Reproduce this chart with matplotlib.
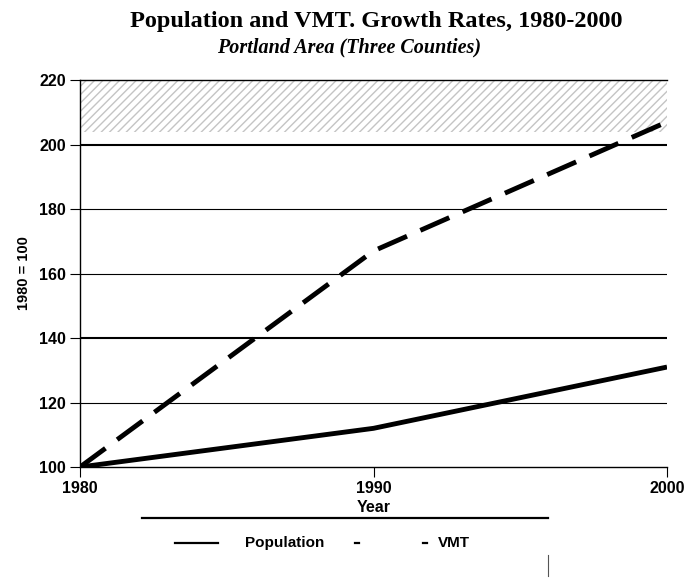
import matplotlib.pyplot as plt
from matplotlib.lines import Line2D

# -------------------------------------------------
# Data (index, 1980 = 100)
# -------------------------------------------------
years = [1980, 1990, 2000]
population = [100, 112, 131]
vmt = [100, 167, 207]

y_ticks = [100, 120, 140, 160, 180, 200, 220]
x_ticks = [1980, 1990, 2000]
series_names = ["Population", "VMT"]

sans = "Liberation Sans"
serif = "Liberation Serif"

fig = plt.figure(figsize=(6.88, 5.84), dpi=100)
ax = fig.add_axes([0.1163, 0.2003, 0.8532, 0.6627])

ax.plot(years, population, color="black", linewidth=3.5, solid_capstyle="butt")
ax.plot(years, vmt, color="black", linewidth=3.5, dashes=(6.5, 3),
        dash_capstyle="butt")

ax.set_xlim(1980, 2000)
ax.set_ylim(100, 220)
ax.set_xticks(x_ticks)
ax.set_yticks(y_ticks)

# horizontal grid lines
for v in y_ticks[1:-1]:
    ax.axhline(v, color="black", linewidth=1.5 if v in (140, 200) else 0.8,
               zorder=0)

# speckled band left by the scan at the top
ax.axhspan(204, 220, facecolor="none", edgecolor="#c4c4c4", hatch="////",
           linewidth=0, zorder=0)

ax.spines["right"].set_visible(False)
for s in ["left", "bottom", "top"]:
    ax.spines[s].set_linewidth(1.0)

ax.tick_params(axis="both", direction="out", length=7, width=0.8,
               labelsize=11.5, pad=3)
for lab in ax.get_xticklabels() + ax.get_yticklabels():
    lab.set_fontfamily(sans)
    lab.set_fontweight("bold")

ax.set_xlabel("Year", fontfamily=sans, fontsize=11.5, fontweight="bold",
              labelpad=3)
ax.set_ylabel("1980 = 100", fontfamily=sans, fontsize=10.5, fontweight="bold",
              labelpad=6)

# -------------------------------------------------
# Titles
# -------------------------------------------------
fig.text(0.547, 0.963, "Population and VMT. Growth Rates, 1980-2000",
         ha="center", va="center", fontfamily=serif, fontweight="bold",
         fontsize=17.5)
fig.text(0.507, 0.918, "Portland Area (Three Counties)", ha="center",
         va="center", fontfamily=serif, fontweight="bold", style="italic",
         fontsize=14.5)

# -------------------------------------------------
# Legend (drawn by hand to keep the scanned look)
# -------------------------------------------------
ly = 1 - 543 / 584
fig.add_artist(Line2D([142 / 688, 548 / 688], [1 - 518 / 584] * 2,
                      color="black", linewidth=1.6))
fig.add_artist(Line2D([175 / 688, 218 / 688], [ly, ly], color="black",
                      linewidth=1.6))
fig.text(245 / 688, ly, series_names[0], ha="left", va="center",
         fontfamily=sans, fontweight="bold", fontsize=11)
fig.add_artist(Line2D([355 / 688, 359 / 688], [ly, ly], color="black",
                      linewidth=1.6))
fig.add_artist(Line2D([423 / 688, 427 / 688], [ly, ly], color="black",
                      linewidth=1.6))
fig.text(438 / 688, ly, series_names[1], ha="left", va="center",
         fontfamily=sans, fontweight="bold", fontsize=11)
fig.add_artist(Line2D([548 / 688, 548 / 688], [1 - 555 / 584, 1 - 576 / 584],
                      color="#555555", linewidth=0.8))

fig.savefig("out.png", dpi=100)
